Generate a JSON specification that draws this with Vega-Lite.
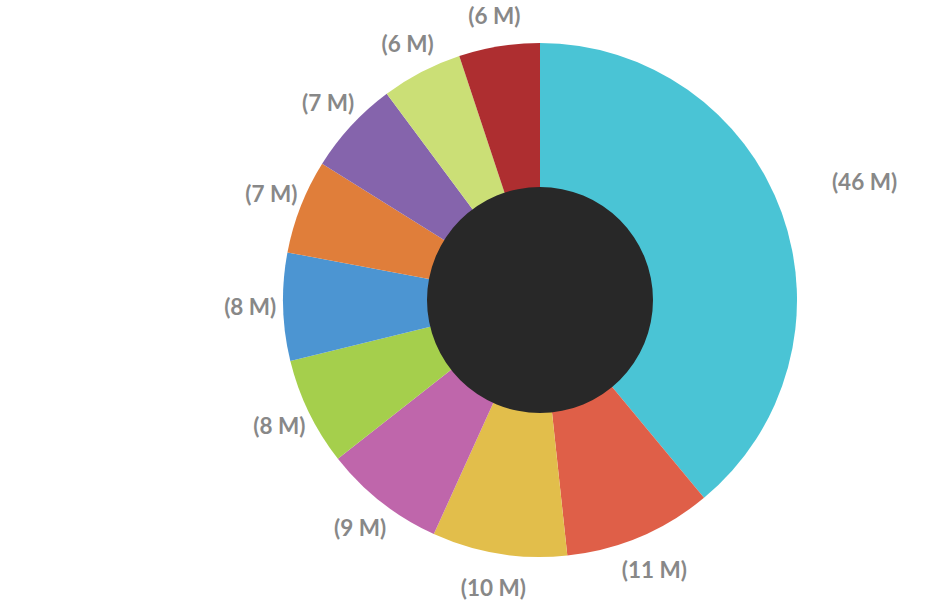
{
  "$schema": "https://vega.github.io/schema/vega-lite/v6.json",
  "width": 796,
  "height": 600,
  "autosize": "none",
  "padding": {"left": 142, "top": 0, "right": 0, "bottom": 2},
  "background": "white",
  "datasets": {
    "slices": [
      {"order": 1, "name": "A", "value": 46, "label": "(46 M)"},
      {"order": 2, "name": "B", "value": 11, "label": "(11 M)"},
      {"order": 3, "name": "C", "value": 10, "label": "(10 M)"},
      {"order": 4, "name": "D", "value": 9, "label": "(9 M)"},
      {"order": 5, "name": "E", "value": 8, "label": "(8 M)"},
      {"order": 6, "name": "F", "value": 8, "label": "(8 M)"},
      {"order": 7, "name": "G", "value": 7, "label": "(7 M)"},
      {"order": 8, "name": "H", "value": 7, "label": "(7 M)"},
      {"order": 9, "name": "I", "value": 6, "label": "(6 M)"},
      {"order": 10, "name": "J", "value": 6, "label": "(6 M)"}
    ],
    "hole": [{"part": "center"}]
  },
  "layer": [
    {
      "data": {"name": "slices"},
      "mark": {"type": "arc", "outerRadius": 257, "stroke": null},
      "encoding": {
        "theta": {"field": "value", "type": "quantitative", "stack": true},
        "order": {"field": "order", "type": "quantitative"},
        "color": {
          "field": "name",
          "type": "nominal",
          "legend": null,
          "scale": {
            "domain": ["A", "B", "C", "D", "E", "F", "G", "H", "I", "J"],
            "range": ["#4AC4D5", "#DF5F48", "#E2BE4B", "#BF66AB", "#A5CF4C", "#4C95D2", "#E07E3A", "#8564AC", "#CBDF76", "#AE2E30"]
          }
        }
      }
    },
    {
      "data": {"name": "slices"},
      "mark": {"type": "text", "font": "Lato", "fontWeight": "bold", "fontSize": 22.5, "align": "center", "baseline": "middle"},
      "encoding": {
        "theta": {"field": "value", "type": "quantitative", "stack": true},
        "order": {"field": "order", "type": "quantitative"},
        "radius": {"field": "value", "type": "quantitative", "scale": {"type": "linear", "domain": [6, 46], "range": [287, 345], "zero": false}, "legend": null},
        "text": {"field": "label", "type": "nominal"},
        "color": {"value": "#888888"}
      }
    },
    {
      "data": {"name": "hole"},
      "mark": {"type": "arc", "outerRadius": 113, "theta": 6.2832, "color": "#282828"},
      "encoding": {}
    }
  ],
  "config": {"view": {"stroke": null}}
}
